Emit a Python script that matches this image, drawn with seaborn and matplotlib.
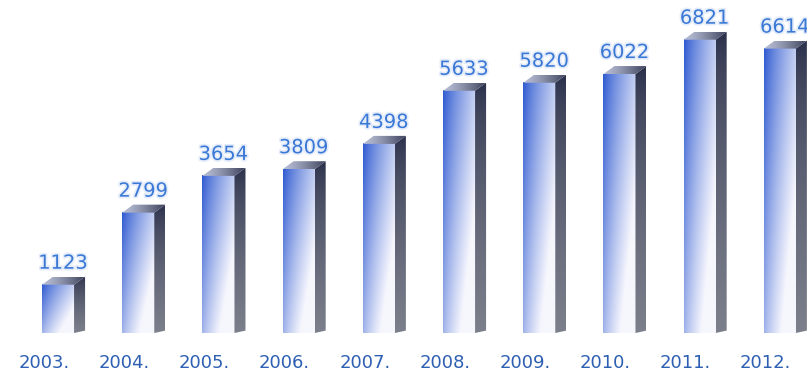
import numpy as np
import pandas as pd
import matplotlib
matplotlib.use("Agg")
import matplotlib.pyplot as plt
import seaborn as sns
from matplotlib.patches import Polygon
from matplotlib.colors import to_rgb
import matplotlib.patheffects as pe

years = ["2003.", "2004.", "2005.", "2006.", "2007.",
         "2008.", "2009.", "2010.", "2011.", "2012."]
values = [1123, 2799, 3654, 3809, 4398, 5633, 5820, 6022, 6821, 6614]

sns.set_theme(style="white")
plt.rcParams["font.family"] = ["DejaVu Sans"]

W, H, DPI = 807, 371, 100
fig = plt.figure(figsize=(W / DPI, H / DPI), dpi=DPI)
fig.patch.set_facecolor("white")
bottom_px = 38
ax = fig.add_axes([0, bottom_px / H, 1, (H - bottom_px) / H])

df = pd.DataFrame({"year": years, "value": values})
sns.barplot(data=df, x="year", y="value", width=0.4, color="#3f66d2",
            saturation=1, ax=ax)

px_per_x = 80.2
px_per_y = 0.043
x0_lim = -0.2 - 42 / px_per_x
ax.set_xlim(x0_lim, x0_lim + W / px_per_x)
ax.set_ylim(0, (H - bottom_px) / px_per_y)

dx = 11 / px_per_x
dy = 8 / px_per_y

blue = np.array(to_rgb("#2c58d0"))
white = np.array(to_rgb("#f6f6fd"))
nx, ny = 64, 128
u = np.linspace(0, 1, nx)[None, :]
v = np.linspace(0, 1, ny)[:, None]
t = np.clip(0.75 * u ** 0.8 + 0.55 * v, 0, 1)
front_img = blue * (1 - t[..., None]) + white * t[..., None]

side_top = np.array(to_rgb("#272c48"))
side_bot = np.array(to_rgb("#7c808c"))
vs = np.linspace(0, 1, ny)[:, None, None] ** 0.6
side_img = np.repeat(side_top * (1 - vs) + side_bot * vs, 4, axis=1)

top_l = np.array(to_rgb("#b8bed6"))
top_r = np.array(to_rgb("#3a3e58"))
us = np.linspace(0, 1, nx)[None, :, None] ** 1.3
top_img = np.repeat(top_l * (1 - us) + top_r * us, 4, axis=0)

bars = list(ax.patches)
for p, val in zip(bars, values):
    xl = p.get_x()
    w = p.get_width()
    h = p.get_height()
    xr = xl + w
    p.set_facecolor("none")
    p.set_edgecolor("none")
    ax.imshow(front_img, extent=[xl, xr, 0, h], origin="upper",
              aspect="auto", interpolation="bilinear", zorder=3)
    side = Polygon([(xr, 0), (xr + dx, dy * 0.3), (xr + dx, h + dy), (xr, h)],
                   closed=True, facecolor="none", edgecolor="none",
                   transform=ax.transData)
    ax.add_patch(side)
    im = ax.imshow(side_img, extent=[xr, xr + dx, 0, h + dy], origin="upper",
                   aspect="auto", interpolation="bilinear", zorder=3)
    im.set_clip_path(side)
    top = Polygon([(xl, h), (xl + dx, h + dy), (xr + dx, h + dy), (xr, h)],
                  closed=True, facecolor="none", edgecolor="none",
                  transform=ax.transData)
    ax.add_patch(top)
    im2 = ax.imshow(top_img, extent=[xl, xr + dx, h, h + dy], origin="upper",
                    aspect="auto", interpolation="bilinear", zorder=3)
    im2.set_clip_path(top)
    ax.text(xl + 21 / px_per_x, h + 16 / px_per_y, f"{val}",
            ha="center", va="baseline", fontsize=14, color="#3a78d6",
            zorder=5, clip_on=False,
            path_effects=[pe.withStroke(linewidth=2.5, foreground="#e4ecfa")])

ax.set_xlim(x0_lim, x0_lim + W / px_per_x)
ax.set_ylim(0, (H - bottom_px) / px_per_y)

ax.set_xticks([i - 0.175 for i in range(len(years))], years)
ax.tick_params(axis="x", length=0, pad=15, labelsize=13, labelcolor="#2d5fb2")
ax.set_yticks([])
ax.set_xlabel("")
ax.set_ylabel("")
for s in ax.spines.values():
    s.set_visible(False)
ax.set_facecolor("white")

fig.savefig("out.png", dpi=DPI, facecolor="white")
